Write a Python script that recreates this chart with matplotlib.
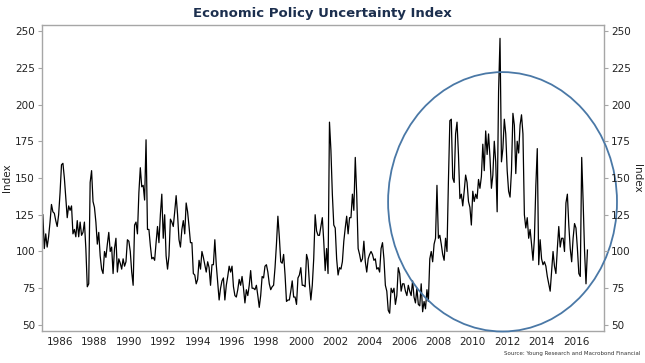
import numpy as np
import matplotlib
matplotlib.use("Agg")
import matplotlib.pyplot as plt
from matplotlib.patches import Ellipse

# Monthly Economic Policy Uncertainty Index, Jan 1985 - Oct 2016
epu_1985_1990 = [125, 102, 112, 103, 110, 120, 132, 127, 126, 121, 117, 125, 140, 159, 160, 150,
                 136, 123, 131, 128, 131, 112, 115, 110, 121, 110, 120, 111, 113, 120, 102, 76,
                 78, 147, 155, 134, 130, 120, 105, 113, 97, 88, 85, 100, 96, 105, 113, 100,
                 103, 85, 102, 109, 86, 95, 92, 88, 95, 90, 93, 108, 107, 100, 86, 77]
epu_1990_1995 = [118, 120, 112, 140, 157, 144, 145, 135, 176, 115, 115, 104, 95, 96, 94, 106,
                 117, 106, 125, 139, 109, 125, 97, 88, 97, 122, 120, 117, 127, 138, 125, 108,
                 103, 115, 121, 112, 133, 127, 117, 106, 106, 85, 84, 78, 81, 94, 88, 100,
                 96, 91, 86, 93, 89, 77, 91, 91, 108, 91, 79, 67, 75, 80, 82, 67]
epu_1995_2000 = [77, 83, 90, 86, 90, 76, 70, 69, 74, 81, 77, 83, 75, 65, 74, 70,
                 77, 87, 75, 75, 74, 77, 70, 62, 70, 83, 82, 90, 91, 86, 78, 74,
                 76, 77, 89, 105, 124, 110, 93, 92, 98, 84, 66, 67, 67, 73, 80, 69,
                 69, 64, 82, 84, 89, 77, 77, 76, 98, 94, 78, 67, 77, 95, 125, 114]
epu_2001_2006 = [111, 111, 117, 123, 107, 87, 102, 85, 188, 169, 139, 118, 116, 95, 84, 89,
                 88, 93, 107, 116, 124, 112, 123, 123, 139, 128, 164, 139, 102, 98, 93, 95,
                 107, 93, 86, 95, 98, 100, 98, 94, 95, 88, 89, 86, 102, 106, 95, 77,
                 73, 60, 58, 75, 72, 75, 64, 70, 89, 85, 73, 78, 78, 73, 70, 77, 73]
epu_2006_2011 = [70, 80, 69, 65, 75, 64, 63, 78, 59, 66, 61, 74, 66, 95, 100, 93,
                 105, 109, 145, 109, 111, 105, 98, 94, 109, 100, 148, 189, 190, 150, 147, 180,
                 188, 166, 136, 139, 131, 141, 152, 147, 134, 130, 118, 141, 134, 139, 136, 149,
                 143, 151, 173, 155, 182, 166, 180, 164, 143, 152, 175, 161, 127, 209, 245]
epu_2011_2016 = [161, 170, 190, 180, 155, 141, 137, 155, 194, 186, 153, 175, 167, 186, 193, 180,
                 125, 116, 123, 109, 115, 105, 94, 109, 145, 170, 91, 108, 95, 91, 93, 90,
                 83, 78, 73, 86, 100, 90, 85, 102, 117, 103, 109, 109, 100, 133, 139, 118,
                 102, 93, 109, 119, 116, 102, 85, 83, 164, 134, 100, 78, 101]

values = (epu_1985_1990 + epu_1990_1995 + epu_1995_2000 + epu_2001_2006
          + epu_2006_2011 + epu_2011_2016)
start_year = 1985
x_years = start_year + np.arange(len(values)) / 12.0

year_ticks = list(range(1986, 2017, 2))
y_ticks = [50, 75, 100, 125, 150, 175, 200, 225, 250]

title = "Economic Policy Uncertainty Index"
source = "Source: Young Research and Macrobond Financial"

fig = plt.figure(figsize=(6.45, 3.63), dpi=100)
ax = fig.add_axes([42 / 645, 1 - 331 / 363, (604 - 42) / 645, (331 - 25) / 363])

ax.plot(x_years, values, color="black", lw=0.9)

ax.set_xlim(1984.95, 2017.63)
ax.set_ylim(45.9, 254.1)
ax.set_xticks(year_ticks)
ax.set_xticklabels([str(y) for y in year_ticks])
ax.set_yticks(y_ticks)

spine_color = "#a6a6a6"
text_color = "#222222"
for s in ax.spines.values():
    s.set_color(spine_color)
    s.set_linewidth(1.0)

ax.tick_params(axis="y", direction="out", length=3, width=0.8,
               color=spine_color, labelsize=7.5, labelcolor=text_color, pad=2)
ax.tick_params(axis="x", direction="out", length=0, labelsize=7.5,
               labelcolor=text_color, pad=4)
ax.set_ylabel("Index", fontsize=7.5, color=text_color, labelpad=2)

ax2 = ax.twinx()
ax2.set_ylim(ax.get_ylim())
ax2.set_yticks(y_ticks)
for s in ax2.spines.values():
    s.set_visible(False)
ax2.tick_params(axis="y", direction="out", length=3, width=0.8,
                color=spine_color, labelsize=7.5, labelcolor=text_color, pad=2)
ax2.set_ylabel("Index", fontsize=7.5, color=text_color, rotation=270, labelpad=8)

# highlight ellipse
ell = Ellipse((2011.73, 133.8), width=13.31, height=176.5, fill=False,
              edgecolor="#4a78a6", lw=1.3, clip_on=False, zorder=5)
ax.add_patch(ell)

fig.text(0.5, 1 - 13 / 363, title, ha="center", va="center", fontsize=9.5,
         fontweight="bold", color="#1c2f4e")
fig.text(640 / 645, 1 - 354 / 363, source, ha="right", va="center", fontsize=4,
         color="#333333")

fig.savefig("out.png", dpi=100, facecolor="white")
